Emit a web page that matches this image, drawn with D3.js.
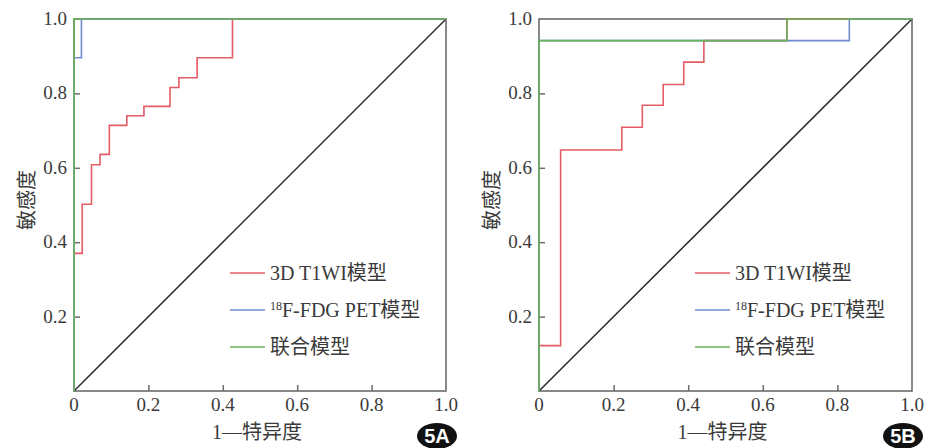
<!DOCTYPE html>
<html>
<head>
<meta charset="utf-8">
<script src="https://cdn.jsdelivr.net/npm/d3@7"></script>
<style>
  body { margin: 0; background: #fff; }
  svg text { font-family: "Liberation Serif", "Noto Sans CJK SC", serif; fill: #3a3a3a; }
</style>
</head>
<body>
<svg id="chart" width="936" height="448"></svg>
<script>
// axis ticks (shared by both panels)
const tickValues = [0, 0.2, 0.4, 0.6, 0.8, 1.0];
const seriesNames = ["3D T1WI模型", "18F-FDG PET模型", "联合模型"];
const seriesColors = ["#e45c66", "#6f8ccf", "#6cb257"];

// panel 5A: ROC operating points [1-specificity, sensitivity]
const aT1wiFpr = [0, 0, 0.022, 0.047, 0.070, 0.095, 0.142, 0.188, 0.258, 0.282, 0.331, 0.426, 1];
const aT1wiTpr = [0, 0.370, 0.502, 0.608, 0.636, 0.714, 0.740, 0.765, 0.816, 0.842, 0.896, 1, 1];
const aPetFpr = [0, 0, 0.020, 1];
const aPetTpr = [0, 0.896, 1, 1];
const aCombFpr = [0, 0, 1];
const aCombTpr = [0, 1, 1];

// panel 5B
const bT1wiFpr = [0, 0, 0.058, 0.222, 0.277, 0.333, 0.388, 0.442, 0.665, 1];
const bT1wiTpr = [0, 0.122, 0.648, 0.709, 0.768, 0.824, 0.884, 0.942, 1, 1];
const bPetFpr = [0, 0, 0.832, 1];
const bPetTpr = [0, 0.942, 1, 1];
const bCombFpr = [0, 0, 0.665, 1];
const bCombTpr = [0, 0.942, 1, 1];

const svg = d3.select("#chart");

function zip(xs, ys) {
  return xs.map((x, i) => ({x: x, y: ys[i]}));
}

function drawPanel(left, top, w, h, series, badge) {
  const x = d3.scaleLinear().domain([0, 1]).range([0, w]);
  const y = d3.scaleLinear().domain([0, 1]).range([h, 0]);

  const g = svg.append("g")
      .attr("transform", "translate(" + left + "," + top + ")");

  // frame
  g.append("rect")
    .attr("x", 0).attr("y", 0)
    .attr("width", w).attr("height", h)
    .attr("fill", "none")
    .attr("stroke", "#6b6b6b")
    .attr("stroke-width", 1.6);

  // inward ticks
  g.append("g")
    .attr("transform", "translate(0," + h + ")")
    .call(d3.axisBottom(x).tickValues(tickValues.slice(1, 5)).tickSize(-6).tickFormat(""))
    .call(a => a.select(".domain").remove())
    .selectAll("line").attr("stroke", "#6b6b6b").attr("stroke-width", 1.5);
  g.append("g")
    .call(d3.axisLeft(y).tickValues(tickValues.slice(1, 5)).tickSize(-6).tickFormat(""))
    .call(a => a.select(".domain").remove())
    .selectAll("line").attr("stroke", "#6b6b6b").attr("stroke-width", 1.5);

  // tick labels
  g.selectAll(".xlab")
    .data(tickValues)
    .enter().append("text")
      .attr("x", d => x(d))
      .attr("y", h + 20)
      .attr("text-anchor", "middle")
      .attr("font-size", 19)
      .text(d => d === 0 ? "0" : d.toFixed(1));
  g.selectAll(".ylab")
    .data(tickValues.slice(1))
    .enter().append("text")
      .attr("x", -7)
      .attr("y", d => y(d) + 6)
      .attr("text-anchor", "end")
      .attr("font-size", 19)
      .text(d => d.toFixed(1));

  // axis titles
  g.append("text")
    .attr("x", w / 2 - 3)
    .attr("y", h + 48)
    .attr("text-anchor", "middle")
    .attr("font-size", 20)
    .text("1—特异度");
  g.append("text")
    .attr("transform", "translate(" + (-40) + "," + (y(0.5) - 5) + ") rotate(-90)")
    .attr("text-anchor", "middle")
    .attr("font-size", 20)
    .text("敏感度");

  // reference diagonal
  g.append("line")
    .attr("x1", x(0)).attr("y1", y(0))
    .attr("x2", x(1)).attr("y2", y(1))
    .attr("stroke", "#2a2a2a")
    .attr("stroke-width", 1.5);

  // ROC step curves
  const line = d3.line()
    .x(d => x(d.x))
    .y(d => y(d.y))
    .curve(d3.curveStepAfter);

  series.forEach((s, i) => {
    g.append("path")
      .datum(s)
      .attr("d", line)
      .attr("fill", "none")
      .attr("stroke", seriesColors[i])
      .attr("stroke-width", 1.6);
  });

  // legend
  const legendY = [254, 291, 328];
  seriesNames.forEach((name, i) => {
    g.append("line")
      .attr("x1", 156).attr("x2", 191)
      .attr("y1", legendY[i]).attr("y2", legendY[i])
      .attr("stroke", seriesColors[i])
      .attr("stroke-width", 1.5);
    const t = g.append("text")
      .attr("x", 196)
      .attr("y", legendY[i] + 7)
      .attr("font-size", 20);
    if (name.startsWith("18")) {
      t.append("tspan").attr("font-size", 12).attr("dy", -7).text("18");
      t.append("tspan").attr("dy", 7).text(name.slice(2));
    } else {
      t.text(name);
    }
  });

  // panel badge
  const bx = w - 9, by = h + 45;
  g.append("ellipse")
    .attr("cx", bx).attr("cy", by)
    .attr("rx", 20).attr("ry", 13)
    .attr("fill", "#111");
  g.append("text")
    .attr("x", bx).attr("y", by + 7)
    .attr("text-anchor", "middle")
    .attr("font-size", 20)
    .attr("font-weight", "bold")
    .style("font-family", "'Liberation Sans', Arial, sans-serif")
    .style("fill", "#fff")
    .text(badge);
}

drawPanel(74, 19, 372, 372,
  [zip(aT1wiFpr, aT1wiTpr), zip(aPetFpr, aPetTpr), zip(aCombFpr, aCombTpr)], "5A");
drawPanel(539, 19, 373, 372,
  [zip(bT1wiFpr, bT1wiTpr), zip(bPetFpr, bPetTpr), zip(bCombFpr, bCombTpr)], "5B");
</script>
</body>
</html>
